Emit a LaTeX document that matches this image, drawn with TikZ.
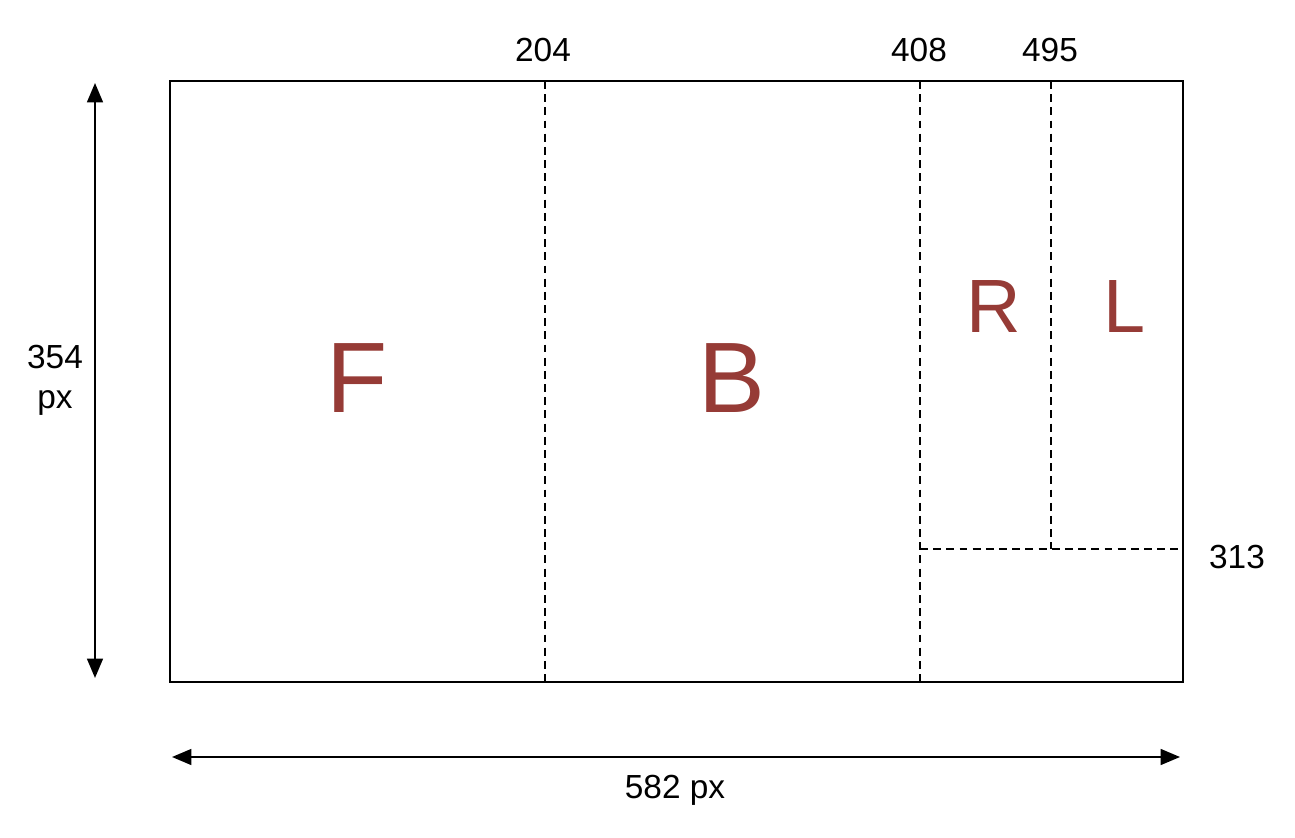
\documentclass[tikz,border=0pt]{standalone}
\usepackage{fontspec}
\setmainfont{Liberation Sans}
\usetikzlibrary{arrows.meta}
\usetikzlibrary{calc}
\definecolor{zone}{RGB}{150,59,54}

\begin{document}
\begin{tikzpicture}[>={Triangle[length=11pt,width=9pt]},font=\fontsize{19}{22.7}\selectfont]
			\useasboundingbox (0,0) rectangle (25.9,16.74);
			\tikzset{cut/.style={dashed,dash pattern=on 4.5pt off 3pt,line width=0.8pt},
				big/.style={text=zone,font=\fontsize{57}{60}\selectfont},
				small/.style={text=zone,font=\fontsize{43}{46}\selectfont}}
			\node[draw,line width=1.1pt,minimum width=20.26cm,minimum height=12.02cm,inner sep=0](frame)at(13.53,9.11){};
			\coordinate(a1)at(10.9,15.12);
			\coordinate(a2)at(10.9,3.1);
			\coordinate(b1)at(18.4,15.12);
			\coordinate(b2)at(18.4,3.1);
			\coordinate(c1)at(21.02,15.12);
			\coordinate(c2)at(21.02,5.76);
			\coordinate(d1)at(18.4,5.76);
			\coordinate(d2)at(23.66,5.76);
			\draw[cut](a1)--(a2);
			\draw[cut](b1)--(b2);
			\draw[cut](c1)--(c2);
			\draw[cut](d1)--(d2);
			\node(n204)at(10.86,15.74){204};
			\node(n408)at(18.38,15.74){408};
			\node(n495)at(21.0,15.74){495};
			\node(n313)at(24.74,5.6){313};
			\node[big](F)at(7.14,9.18){F};
			\node[big](B)at(14.64,9.18){B};
			\node[small](R)at(19.88,10.6){R};
			\node[small](L)at(22.48,10.6){L};
			\coordinate(h1)at(1.9,15.08);
			\coordinate(h2)at(1.9,3.18);
			\coordinate(w1)at(3.44,1.6);
			\coordinate(w2)at(23.6,1.6);
			\draw[<->,line width=1.1pt](h1)--(h2);
			\draw[<->,line width=1.1pt](w1)--(w2);
			\node[align=center](hgt)at(1.1,9.14){354\\px};
			\node(wdt)at(13.5,0.94){582 px};
		\end{tikzpicture}
\end{document}
